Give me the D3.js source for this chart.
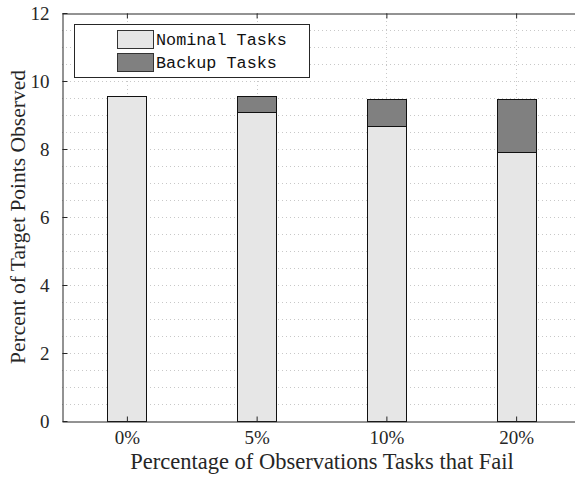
<!DOCTYPE html>
<html>
<head>
<meta charset="utf-8">
<script src="https://cdn.jsdelivr.net/npm/d3@7/dist/d3.min.js"></script>
<style>
  html, body { margin: 0; padding: 0; background: #fff; }
  svg { display: block; }
</style>
</head>
<body>
<svg id="chart" width="575" height="477"></svg>
<script>
// Failure rates along the x axis
const categories = ["0%", "5%", "10%", "20%"];
// Stacked series (percent of target points observed)
const nominalTasks = [9.56, 9.08, 8.67, 7.91];
const backupTasks  = [0.00, 0.48, 0.79, 1.55];
const seriesNames  = ["Nominal Tasks", "Backup Tasks"];
const yTicks = [0, 2, 4, 6, 8, 10, 12];

const W = 575, H = 477;
const margin = { left: 62, top: 13, right: -6, bottom: 56 };
const x0 = margin.left, x1 = W - margin.right;
const y0 = H - margin.bottom, y1 = margin.top;

const svg = d3.select("#chart");
const serif = "'Liberation Serif', 'DejaVu Serif', serif";
const mono = "'Courier New', 'Liberation Mono', monospace";

// Category positions 1..n on a linear scale with half-step padding
const x = d3.scaleLinear().domain([0.5, categories.length + 0.5]).range([x0, x1]);
const y = d3.scaleLinear().domain([0, 12]).range([y0, y1]);
const barW = (x(1.3) - x(1));

// Dotted grid: minor every 0.5 on y, and at each category on x
const grid = svg.append("g").attr("stroke", "#c8c8c8").attr("stroke-width", 1)
  .attr("stroke-dasharray", "1,3");
d3.range(0.5, 12, 0.5).forEach(v => {
  grid.append("line").attr("x1", x0).attr("x2", x1)
    .attr("y1", Math.round(y(v)) + 0.5).attr("y2", Math.round(y(v)) + 0.5);
});
categories.forEach((c, i) => {
  grid.append("line").attr("x1", Math.round(x(i + 1)) + 0.5).attr("x2", Math.round(x(i + 1)) + 0.5)
    .attr("y1", y1).attr("y2", y0);
});

// Stacked bars
const stackData = categories.map((c, i) => ({ idx: i + 1, nominal: nominalTasks[i], backup: backupTasks[i] }));
const stacked = d3.stack().keys(["nominal", "backup"])(stackData);
const fills = ["#e6e6e6", "#808080"];
stacked.forEach((layer, k) => {
  svg.append("g").selectAll("rect")
    .data(layer.filter(d => d[1] - d[0] > 0)).join("rect")
    .attr("x", d => Math.round(x(d.data.idx) - barW / 2) + 0.5)
    .attr("width", Math.round(barW))
    .attr("y", d => Math.round(y(d[1])) + 0.5)
    .attr("height", d => Math.round(y(d[0])) - Math.round(y(d[1])))
    .attr("fill", fills[k])
    .attr("stroke", "#111")
    .attr("stroke-width", 1);
});

// Axes box (top and left/bottom lines) with inward ticks
const axisCol = "#262626";
const xAxis = d3.axisBottom(x).tickValues(d3.range(1, categories.length + 1))
  .tickFormat(d => categories[d - 1]).tickSizeInner(-5).tickSizeOuter(0).tickPadding(9);
const gx = svg.append("g").attr("transform", `translate(0,${y0 + 0.5})`).call(xAxis);
const yAxis = d3.axisLeft(y).tickValues(yTicks).tickSizeInner(-5).tickSizeOuter(0).tickPadding(13);
const gy = svg.append("g").attr("transform", `translate(${x0 + 0.5},0)`).call(yAxis);
const xTop = d3.axisTop(x).tickValues(d3.range(1, categories.length + 1))
  .tickFormat("").tickSizeInner(-5).tickSizeOuter(0);
svg.append("g").attr("transform", `translate(0,${y1 + 0.5})`).call(xTop);

[gx, gy].forEach(g => {
  g.attr("font-size", null).attr("font-family", null);
  g.selectAll("text").style("font-family", serif).style("font-size", "19px").attr("fill", "#262626");
});
gx.selectAll("text").attr("dy", "0.71em");
svg.selectAll(".domain, .tick line").attr("stroke", axisCol).attr("stroke-width", 1);

// Axis titles
svg.append("text").attr("x", 322).attr("y", 469)
  .attr("text-anchor", "middle").style("font-family", serif).style("font-size", "22.5px")
  .attr("fill", "#262626").text("Percentage of Observations Tasks that Fail");
svg.append("text").attr("transform", `translate(25,217) rotate(-90)`)
  .attr("text-anchor", "middle").style("font-family", serif).style("font-size", "21.5px")
  .attr("fill", "#262626").text("Percent of Target Points Observed");

// Legend
const lg = svg.append("g");
lg.append("rect").attr("x", 74.5).attr("y", 24.5).attr("width", 235).attr("height", 53)
  .attr("fill", "#fff").attr("stroke", "#262626").attr("stroke-width", 1);
seriesNames.forEach((name, i) => {
  const yy = 30.5 + i * 23;
  lg.append("rect").attr("x", 117.5).attr("y", yy).attr("width", 36).attr("height", 18)
    .attr("fill", fills[i]).attr("stroke", "#333").attr("stroke-width", 1);
  lg.append("text").attr("x", 156).attr("y", yy + 14).style("font-family", mono)
    .style("font-size", "16.8px").attr("fill", "#111").text(name);
});
</script>
</body>
</html>
